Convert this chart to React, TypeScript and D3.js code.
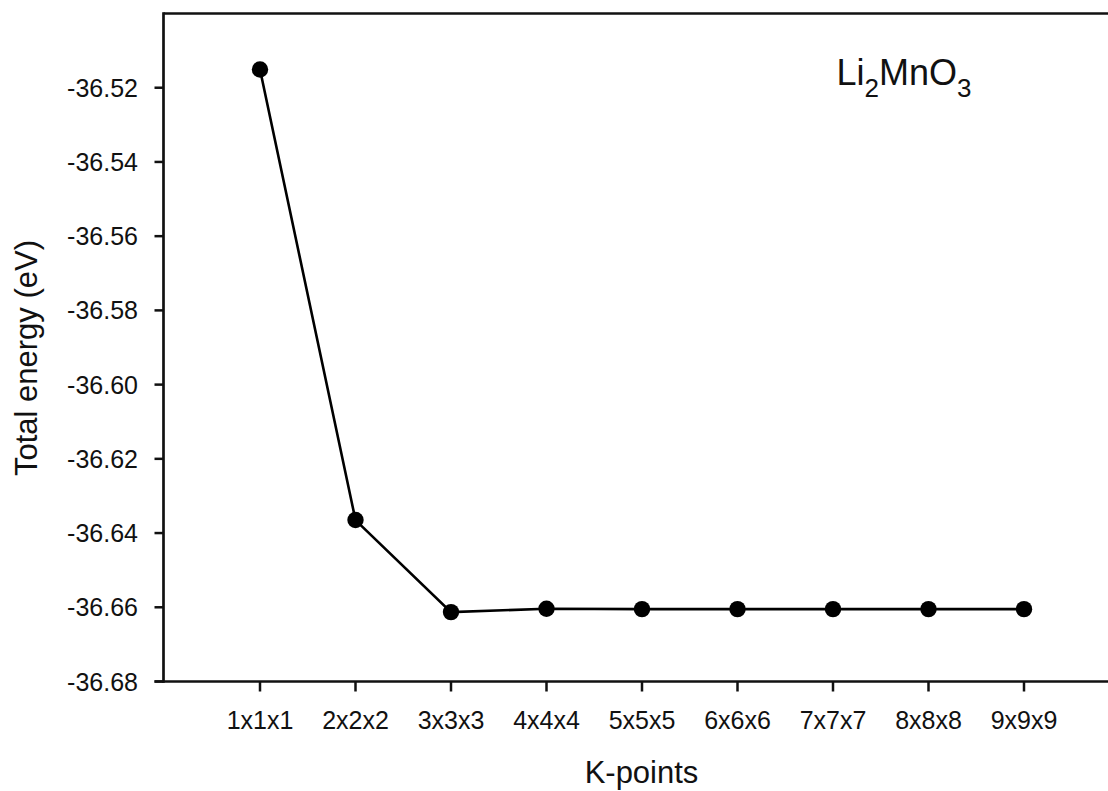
import React from "react";
import * as d3 from "d3";

// K-point mesh convergence for Li2MnO3
const kpoints = ["1x1x1", "2x2x2", "3x3x3", "4x4x4", "5x5x5", "6x6x6", "7x7x7", "8x8x8", "9x9x9"];
const totalEnergy = [-36.5151, -36.6365, -36.6613, -36.6604, -36.6605, -36.6605, -36.6605, -36.6605, -36.6605];
const yTicks = [-36.68, -36.66, -36.64, -36.62, -36.60, -36.58, -36.56, -36.54, -36.52];

const W = 1108;
const H = 791;
const FONT = "'Liberation Sans', Arial, sans-serif";
const fmt = (v: number) => d3.format(".2f")(v).replace("\u2212", "-");

export default function App() {
  const x = d3.scaleLinear().domain([0, 10]).range([164.5, 1119.5]);
  const y = d3.scaleLinear().domain([-36.68, -36.5]).range([681.5, 13.5]);

  const pts = totalEnergy.map((v, i) => [x(i + 1), y(v)] as [number, number]);
  const line = d3.line()(pts) || "";

  const left = x.range()[0] - 1;
  const bottom = y.range()[0];
  const top = y.range()[1];

  return (
    <svg
      width={W}
      height={H}
      style={{ position: "absolute", left: 0, top: 0, background: "#fff", display: "block" }}
      fontFamily={FONT}
    >
      {/* frame: left, top, bottom */}
      <line x1={left} x2={left} y1={top - 1.3} y2={bottom + 1.3} stroke="#111" strokeWidth={2.7} />
      <line x1={left} x2={x.range()[1]} y1={top} y2={top} stroke="#111" strokeWidth={2.7} />
      <line x1={left - 9} x2={x.range()[1]} y1={bottom} y2={bottom} stroke="#111" strokeWidth={2.7} />

      {/* y ticks */}
      {yTicks.map((t) => (
        <g key={t}>
          <line x1={left - 9} x2={left} y1={y(t)} y2={y(t)} stroke="#111" strokeWidth={2.5} />
          <text
            x={138}
            y={y(t)}
            textAnchor="end"
            dominantBaseline="central"
            fontSize={25}
            fill="#111"
          >
            {fmt(t)}
          </text>
        </g>
      ))}

      {/* x ticks */}
      {kpoints.map((k, i) => (
        <g key={k}>
          <line x1={x(i + 1)} x2={x(i + 1)} y1={bottom} y2={bottom + 10} stroke="#111" strokeWidth={2.5} />
          <text x={x(i + 1)} y={728.5} textAnchor="middle" fontSize={25} fill="#111">
            {k}
          </text>
        </g>
      ))}

      {/* axis titles */}
      <text x={641.5} y={783} textAnchor="middle" fontSize={31} fill="#111">
        K-points
      </text>
      <text
        transform={`translate(36.5, 358) rotate(-90)`}
        textAnchor="middle"
        fontSize={31}
        fill="#111"
      >
        Total energy (eV)
      </text>

      {/* data */}
      <path d={line} fill="none" stroke="#000" strokeWidth={2.6} />
      {pts.map(([px, py], i) => (
        <circle key={i} cx={px} cy={py} r={8.2} fill="#000" />
      ))}

      {/* compound label */}
      <text x={836.5} y={85} fontSize={36} fill="#111">
        Li
        <tspan fontSize={26} dy={12}>2</tspan>
        <tspan dy={-12}>MnO</tspan>
        <tspan fontSize={26} dy={12}>3</tspan>
      </text>
    </svg>
  );
}
